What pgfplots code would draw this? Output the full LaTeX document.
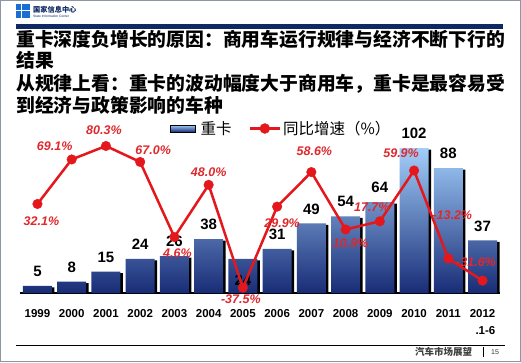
\documentclass[border=0pt]{standalone}
\usepackage{pgfplots}
\pgfplotsset{compat=1.18}
\usepackage{pgfplotstable}
\usepackage{fontspec}
\setmainfont{Liberation Sans}
\newfontfamily\cjk{Noto Sans CJK SC}
\definecolor{navy}{RGB}{14,40,100}
\definecolor{barlight}{RGB}{162,206,250}
\definecolor{barmid}{RGB}{78,128,208}
\definecolor{bardark}{RGB}{24,44,118}
\definecolor{linered}{RGB}{228,24,28}
\definecolor{labred}{RGB}{222,40,44}
\definecolor{logoblue}{RGB}{24,110,210}
\definecolor{framegray}{RGB}{140,150,165}

\pgfplotstableread{
x v ly
0 5 9
1 8 9
2 15 9
3 24 9
4 26 9
5 38 9
6 24 -26.5
7 31 9
8 49 9
9 54 9
10 64 9
11 102 9
12 88 9
13 37 9
}\bars

\pgfplotstableread{
x y dx dy
0 32.1 4 -17.7
1 69.1 -17 13.5
2 80.3 -2 16
3 67.0 13 12
4 4.6 3 -16
5 48.0 0 13
6 -37.5 -2 -11.5
7 29.9 5 -16.5
8 58.6 3 21
9 10.9 5 -13.5
10 17.7 -8 14
11 59.9 -13 17.5
12 -13.2 4 43.5
13 -31.6 -6.5 18.6
}\growth

\begin{document}
\begin{tikzpicture}[x=1pt,y=1pt]
\useasboundingbox (0,0) rectangle (521,362);
\fill[white] (0,0) rectangle (521,362);
\draw[framegray, line width=1pt] (0.5,0.5) rectangle (520.5,361.5);
% logo
\fill[logoblue] (16,344) rectangle (30,358);
\draw[white, line width=0.8pt] (16,352) -- (30,352);
\draw[white, line width=0.8pt] (21,344) -- (21,358);
\node[anchor=west, inner sep=0pt, font=\cjk\bfseries\fontsize{7.2}{8}\selectfont, text=navy] at (33,352) {国家信息中心};
\node[anchor=west, inner sep=0pt, font=\fontsize{3.3}{4}\selectfont, text=navy] at (33,345.5) {State Information Center};
\fill[navy] (16,333) rectangle (503,338);
% title
\begin{scope}[every node/.style={anchor=base west, inner sep=0pt, font=\cjk\bfseries\fontsize{18.8}{22}\selectfont}]
\node at (16,315) {重卡深度负增长的原因：商用车运行规律与经济不断下行的};
\node at (16,294) {结果};
\node at (16,271) {从规律上看：重卡的波动幅度大于商用车，重卡是最容易受};
\node at (16,249) {到经济与政策影响的车种};
\end{scope}
% footer
\draw[black, line width=0.8pt] (16,16.3) -- (505,16.3);
\node[anchor=west, inner sep=0pt, font=\cjk\bfseries\fontsize{9.5}{10}\selectfont, text=black!75] at (415,10) {汽车市场展望};
\draw[black, line width=0.8pt] (483,5) -- (483,15);
\node[anchor=west, inner sep=0pt, font=\fontsize{7}{8}\selectfont, text=black!80] at (491,10) {15};

\begin{axis}[
  at={(20pt,69pt)}, anchor=south west, scale only axis,
  width=480pt, height=167pt,
  xmin=-0.51, xmax=13.51, ymin=0, ymax=117.6,
  axis x line*=bottom, axis y line=none,
  x axis line style={black, line width=1.5pt, -},
  xtick={0,...,13},
  xticklabels={1999,2000,2001,2002,2003,2004,2005,2006,2007,2008,2009,2010,2011,{2012\\.1-6}},
  xticklabel style={anchor=north, inner sep=0pt, yshift=-16pt, align=right, font=\bfseries\fontsize{11.5}{17.5}\selectfont},
  major tick length=0pt, ytick=\empty,
  legend columns=2,
  legend style={at={(0.3125,0.985)}, anchor=west, draw=none, fill=none, inner sep=0pt,
    font=\cjk\fontsize{15.5}{16}\selectfont, nodes={inner sep=0pt},
    /tikz/every even column/.append style={column sep=17pt}},
  legend cell align=left,
]
\addplot[ybar, bar width=29pt, bar shift=2.5pt, fill=black, draw=none, yshift=-1.5pt, forget plot] table[x=x,y=v]{\bars};
\addplot[ybar, bar width=29pt, bar shift=0pt, draw=none, top color=barlight, middle color=barmid, bottom color=bardark, forget plot,
  point meta=explicit symbolic, nodes near coords,
  visualization depends on={\thisrow{ly}\as\ly},
  nodes near coords style={anchor=south, inner sep=0pt, yshift=\ly pt, font=\bfseries\fontsize{15}{15}\selectfont, text=black}]
  table[x=x,y=v,meta=v]{\bars};
\addlegendimage{legend image code/.code={\fill[top color=barlight,middle color=barmid,bottom color=bardark] (0pt,-3.5pt) rectangle (25pt,3.5pt); \path (30pt,0pt);}}
\addlegendentry{重卡}
\addlegendimage{legend image code/.code={\draw[linered,line width=2.5pt] (0pt,0pt) -- (30pt,0pt); \fill[linered] (15pt,0pt) circle (5pt); \path (33pt,0pt);}}
\addlegendentry{同比增速（\%）}
\end{axis}

\begin{axis}[
  at={(20pt,69pt)}, anchor=south west, scale only axis,
  width=480pt, height=167pt,
  xmin=-0.51, xmax=13.51, ymin=-41.9, ymax=96.9,
  axis lines=none, clip=false,
]
\addplot[linered, line width=2.5pt, mark=*, mark size=4.8pt, mark options={fill=linered, draw=linered, line width=0.4pt},
  point meta=explicit symbolic, nodes near coords={\pgfplotspointmeta\%},
  visualization depends on={\thisrow{dx}\as\dx},
  visualization depends on={\thisrow{dy}\as\dy},
  nodes near coords style={anchor=center, inner sep=0pt, xshift=\dx pt, yshift=\dy pt, font=\bfseries\itshape\fontsize{12.5}{12.5}\selectfont, text=labred}]
  table[x=x,y=y,meta=y]{\growth};
\end{axis}
\end{tikzpicture}
\end{document}
